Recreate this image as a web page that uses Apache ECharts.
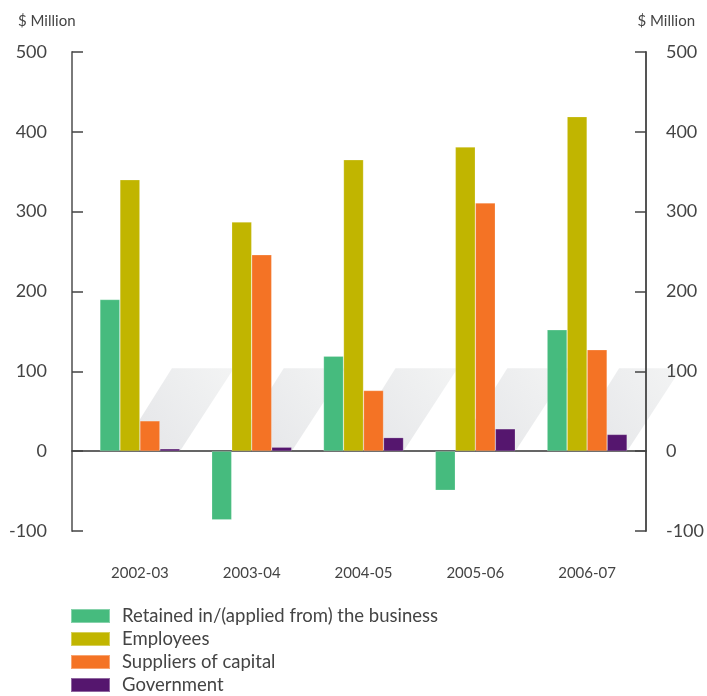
<!DOCTYPE html>
<html>
<head>
<meta charset="utf-8">
<script src="https://cdn.jsdelivr.net/npm/echarts@6/dist/echarts.min.js"></script>
<style>
  html, body { margin: 0; padding: 0; background: #fff; }
  #chart { width: 707px; height: 696px; }
</style>
</head>
<body>
<div id="chart"></div>
<script>
// Distribution of value added, $ million per financial year
const years = ['2002-03', '2003-04', '2004-05', '2005-06', '2006-07'];
const retained = [190, -86, 119, -49, 152];
const employees = [340, 287, 365, 381, 419];
const suppliersOfCapital = [38, 246, 76, 311, 127];
const government = [3, 5, 17, 28, 21];
const seriesNames = ['Retained in/(applied from) the business', 'Employees', 'Suppliers of capital', 'Government'];
const yTicks = [-100, 0, 100, 200, 300, 400, 500];
// height of the decorative slanted backdrop behind each group
const backdropTop = [104, 104, 104, 104, 104];

const colors = ['#46bb7e', '#c1b500', '#f47325', '#55166e'];
const FONT = 'Lato, "Open Sans", sans-serif';
const TXT = '#444';

const chart = echarts.init(document.getElementById('chart'), null, { renderer: 'canvas' });

const gridTop = 52, gridBottom = 165;

function barSeries(name, data, color) {
  return {
    name: name, type: 'bar', xAxisIndex: 1, yAxisIndex: 2,
    data: data, barWidth: 20, barGap: '0%', z: 2,
    itemStyle: { color: color, borderColor: 'rgba(255,255,255,0.35)', borderWidth: 0.6 }
  };
}

chart.setOption({
  animation: false,
  textStyle: { fontFamily: FONT },
  title: [
    { text: '$ Million', left: 13, top: 9, textStyle: { fontSize: 15, fontWeight: 'normal', color: TXT, fontFamily: FONT } },
    { text: '$ Million', right: 7, top: 9, textStyle: { fontSize: 15, fontWeight: 'normal', color: TXT, fontFamily: FONT } }
  ],
  grid: [
    { left: 72, right: 58, top: gridTop, bottom: gridBottom },
    { left: 84, right: 64, top: gridTop, bottom: gridBottom }
  ],
  xAxis: [
    {
      gridIndex: 0, type: 'value', min: 0, max: 1,
      axisLine: { show: true, onZero: true, lineStyle: { color: '#333', width: 1.6 } },
      axisTick: { show: false }, axisLabel: { show: false }, splitLine: { show: false }
    },
    {
      gridIndex: 1, type: 'category', data: years, position: 'bottom',
      axisLine: { show: false, onZero: false }, axisTick: { show: false }, splitLine: { show: false },
      axisLabel: { margin: 35, fontSize: 15, color: TXT, fontFamily: FONT }
    }
  ],
  yAxis: [
    {
      gridIndex: 0, type: 'value', position: 'left', min: yTicks[0], max: yTicks[yTicks.length - 1], interval: 100,
      axisLine: { show: true, lineStyle: { color: '#7a7a7a', width: 2 } },
      axisTick: { show: true, inside: true, length: 11, lineStyle: { color: '#444', width: 1.5 } },
      axisLabel: { margin: 25, fontSize: 18, color: TXT, fontFamily: FONT },
      splitLine: { show: false }
    },
    {
      gridIndex: 0, type: 'value', position: 'right', min: yTicks[0], max: yTicks[yTicks.length - 1], interval: 100,
      axisLine: { show: true, lineStyle: { color: '#555', width: 2 } },
      axisTick: { show: true, inside: true, length: 11, lineStyle: { color: '#444', width: 1.5 } },
      axisLabel: { margin: 20, fontSize: 18, color: TXT, fontFamily: FONT },
      splitLine: { show: false }
    },
    {
      gridIndex: 1, type: 'value', min: yTicks[0], max: yTicks[yTicks.length - 1], interval: 100, show: false
    }
  ],
  legend: {
    orient: 'vertical', left: 70, top: 606.5, padding: 0,
    itemWidth: 39, itemHeight: 14, itemGap: 4,
    icon: 'rect',
    data: seriesNames,
    textStyle: { fontSize: 18.5, color: TXT, fontFamily: FONT, lineHeight: 14, padding: [0, 0, 0, 7] }
  },
  series: [
    {
      type: 'custom', xAxisIndex: 1, yAxisIndex: 2, z: -1, clip: false, silent: true,
      data: backdropTop.map((v, i) => [i, v]),
      renderItem: function (params, api) {
        const i = api.value(0);
        const b = api.coord([i, 0]);
        const t = api.coord([i, api.value(1)]);
        return {
          type: 'polygon',
          shape: { points: [[b[0] - 20, b[1]], [b[0] + 40, b[1]], [b[0] + 94, t[1]], [b[0] + 32, t[1]]] },
          style: {
            fill: new echarts.graphic.LinearGradient(0, 1, 1, 0, [
              { offset: 0, color: '#e3e4e7' },
              { offset: 1, color: '#f3f4f4' }
            ])
          }
        };
      }
    },
    barSeries(seriesNames[0], retained, colors[0]),
    barSeries(seriesNames[1], employees, colors[1]),
    barSeries(seriesNames[2], suppliersOfCapital, colors[2]),
    barSeries(seriesNames[3], government, colors[3])
  ]
});
</script>
</body>
</html>
